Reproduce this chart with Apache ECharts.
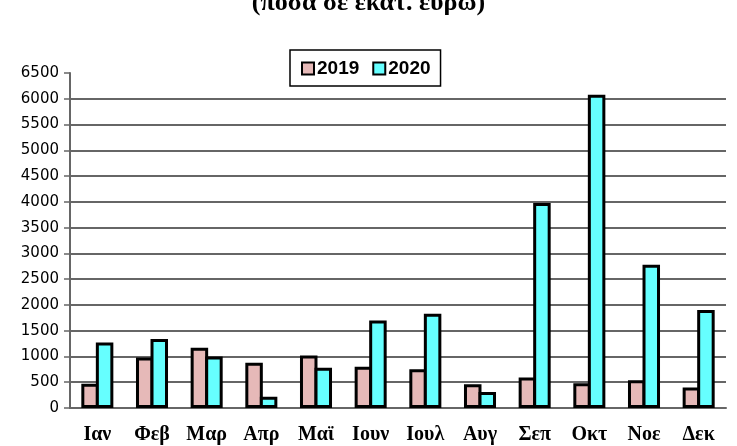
<!DOCTYPE html>
<html>
<head>
<meta charset="utf-8">
<script src="https://cdn.jsdelivr.net/npm/echarts@6/dist/echarts.min.js"></script>
<style>
  html, body { margin: 0; padding: 0; background: #fff; }
  #chart { width: 737px; height: 446px; }
</style>
</head>
<body>
<div id="chart"></div>
<script>
// months and yearly values (ποσά σε εκατ. ευρώ)
const months = ['Ιαν', 'Φεβ', 'Μαρ', 'Απρ', 'Μαϊ', 'Ιουν', 'Ιουλ', 'Αυγ', 'Σεπ', 'Οκτ', 'Νοε', 'Δεκ'];
const values2019 = [470, 980, 1170, 880, 1020, 800, 750, 460, 590, 480, 540, 400];
const values2020 = [1270, 1340, 1000, 220, 780, 1700, 1830, 310, 3980, 6080, 2780, 1900];
const seriesNames = ['2019', '2020'];

const chart = echarts.init(document.getElementById('chart'));

// the two bars of a month share one border line
const barBorder = { borderColor: '#000', borderWidth: 3 };

chart.setOption({
    animation: false,
    title: {
        text: '(ποσά σε εκατ. ευρώ)',
        left: 'center',
        top: -15,
        textStyle: { fontFamily: 'Liberation Serif', fontWeight: 'bold', fontSize: 26, color: '#000' }
    },
    legend: {
        data: seriesNames,
        left: 290,
        top: 50,
        padding: [9, 10, 8, 11],
        itemGap: 13,
        itemWidth: 12,
        itemHeight: 12,
        borderColor: '#000',
        borderWidth: 1.5,
        icon: 'rect',
        itemStyle: { borderColor: '#000', borderWidth: 2 },
        textStyle: { fontFamily: 'Liberation Sans', fontWeight: 'bold', fontSize: 19, color: '#000', padding: [0, 0, 0, -2] }
    },
    grid: { left: 70, right: 11, top: 73, bottom: 38 },
    xAxis: {
        type: 'category',
        data: months,
        axisLine: { lineStyle: { color: '#666', width: 2 } },
        axisTick: { length: 5, lineStyle: { color: '#666', width: 1.5 } },
        axisLabel: {
            margin: 17,
            fontFamily: 'Liberation Serif',
            fontWeight: 'bold',
            fontSize: 20,
            color: '#000'
        }
    },
    yAxis: {
        type: 'value',
        min: 0,
        max: 6500,
        interval: 500,
        axisLine: { show: true, lineStyle: { color: '#666', width: 2 } },
        axisTick: { show: true, length: 6, lineStyle: { color: '#666', width: 1.5 } },
        axisLabel: {
            margin: 11,
            fontFamily: 'DejaVu Sans',
            fontSize: 15,
            color: '#000',
            formatter: (v) => String(v)
        },
        splitLine: { show: true, showMaxLine: false, lineStyle: { color: '#333', width: 1.5 } }
    },
    series: [
        {
            name: seriesNames[0],
            type: 'bar',
            data: values2019,
            barWidth: 17.5,
            barGap: '-17%',
            itemStyle: Object.assign({ color: '#E6B9B8' }, barBorder)
        },
        {
            name: seriesNames[1],
            type: 'bar',
            data: values2020,
            barWidth: 17.5,
            barGap: '-17%',
            itemStyle: Object.assign({ color: '#66FFFF' }, barBorder)
        }
    ]
});

window.addEventListener('resize', () => {
    chart.resize();
});
</script>
</body>
</html>
